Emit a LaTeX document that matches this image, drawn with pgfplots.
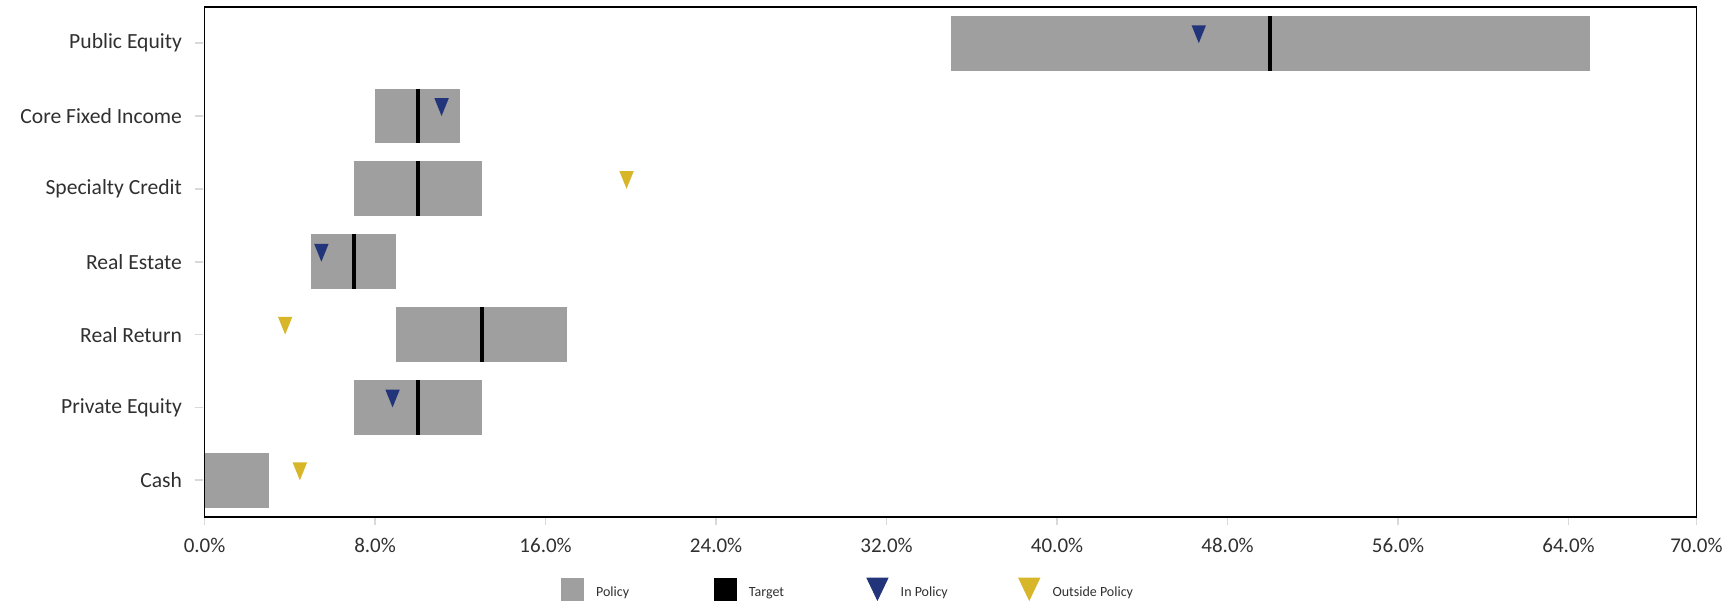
\documentclass[border=0pt]{standalone}
\usepackage{fontspec}
\setmainfont{Carlito}
\usepackage{pgfplots}
\usepackage{pgfplotstable}
\pgfplotsset{compat=1.18}

\definecolor{policygrey}{HTML}{9F9F9F}
\definecolor{inpolicy}{HTML}{23357A}
\definecolor{outpolicy}{HTML}{D8B62A}
\definecolor{tickgrey}{HTML}{D9D9D9}
\definecolor{labeltext}{HTML}{303030}

% downward triangle with its tip on the data point
\pgfdeclareplotmark{downtri}{%
  \pgfpathmoveto{\pgfqpoint{-3.6pt}{8.9pt}}%
  \pgfpathlineto{\pgfqpoint{3.6pt}{8.9pt}}%
  \pgfpathlineto{\pgfqpoint{0pt}{0pt}}%
  \pgfpathclose\pgfusepathqfill}

% policy ranges, targets and current allocations (in %)
\pgfplotstableread{
idx low high target inpol outpol
0   35  65   50     46.65 nan
1   8   12   10     11.12 nan
2   7   13   10     nan   19.8
3   5   9    7      5.48  nan
4   9   17   13     nan   3.78
5   7   13   10     8.82  nan
6   0   3    nan    nan   4.47
}\alloc

\begin{document}
\begin{tikzpicture}
\path[use as bounding box] (-102.3pt,-42.65pt) rectangle (764.7pt,258.35pt);
\begin{axis}[
  at={(0pt,0pt)}, anchor=south west,
  scale only axis, width=745.9pt, height=255pt,
  xmin=0, xmax=70, ymin=-0.5, ymax=6.5, y dir=reverse,
  axis line style={black, line width=0.9pt},
  tick pos=left, tick align=outside,
  major tick length=4.2pt,
  xtick style={draw=tickgrey, line width=0.8pt},
  ytick style={draw=tickgrey, line width=0.8pt, xshift=-0.8pt},
  xtick={0,8,16,24,32,40,48,56,64,70},
  xticklabels={0.0\%,8.0\%,16.0\%,24.0\%,32.0\%,40.0\%,48.0\%,56.0\%,64.0\%,70.0\%},
  ytick={0,1,2,3,4,5,6},
  yticklabels={Public Equity\hspace{4.3pt},Core Fixed Income\hspace{4.7pt},Specialty Credit\hspace{4.3pt},Real Estate\hspace{0.6pt},Real Return\hspace{2.3pt},Private Equity\hspace{3.8pt},Cash},
  tick label style={font=\fontsize{10.5}{12}\selectfont, text=labeltext},
  yticklabel style={xshift=-3.6pt, font=\fontsize{10.8}{12}\selectfont},
  xticklabel style={yshift=-3pt},
  legend columns=4,
  legend style={at={(0.2386,-0.142)}, anchor=west, draw=none, fill=none,
    inner sep=0pt, font=\fontsize{7}{8}\selectfont, text=labeltext,
    nodes={inner sep=0pt, text depth=0pt},
    cells={anchor=base west},
    /tikz/every odd column/.append style={column sep=6.2pt}},
]
% policy ranges as thick horizontal spans
\addplot[draw=none, mark=none, forget plot,
  error bars/.cd, x dir=plus, x explicit, error mark=none,
  error bar style={line width=27.4pt, draw=policygrey, line cap=butt}]
  table[x=low, y=idx, x error expr=\thisrow{high}-\thisrow{low}] {\alloc};
% targets
\addplot[only marks, mark=|, mark size=13.7pt, forget plot,
  mark options={line width=2pt, draw=black}]
  table[x=target, y=idx] {\alloc};
% current allocations
\addplot[only marks, mark=downtri, color=inpolicy, forget plot]
  table[x=inpol, y=idx] {\alloc};
\addplot[only marks, mark=downtri, color=outpolicy, forget plot]
  table[x=outpol, y=idx] {\alloc};

\addlegendimage{legend image code/.code={\fill[policygrey] (0pt,-1.7pt) rectangle (11pt,9.3pt);}}
\addlegendentry{\makebox[58.8pt][l]{Policy}}
\addlegendimage{legend image code/.code={\fill[black] (0pt,-1.7pt) rectangle (11pt,9.3pt);}}
\addlegendentry{\makebox[58.8pt][l]{Target}}
\addlegendimage{legend image code/.code={\fill[inpolicy] (0pt,9.3pt) -- (10.5pt,9.3pt) -- (5.25pt,-1.7pt) -- cycle;}}
\addlegendentry{\makebox[58.8pt][l]{In Policy}}
\addlegendimage{legend image code/.code={\fill[outpolicy] (0pt,9.3pt) -- (10.5pt,9.3pt) -- (5.25pt,-1.7pt) -- cycle;}}
\addlegendentry{\makebox[58.8pt][l]{Outside Policy}}
\end{axis}
\end{tikzpicture}
\end{document}
